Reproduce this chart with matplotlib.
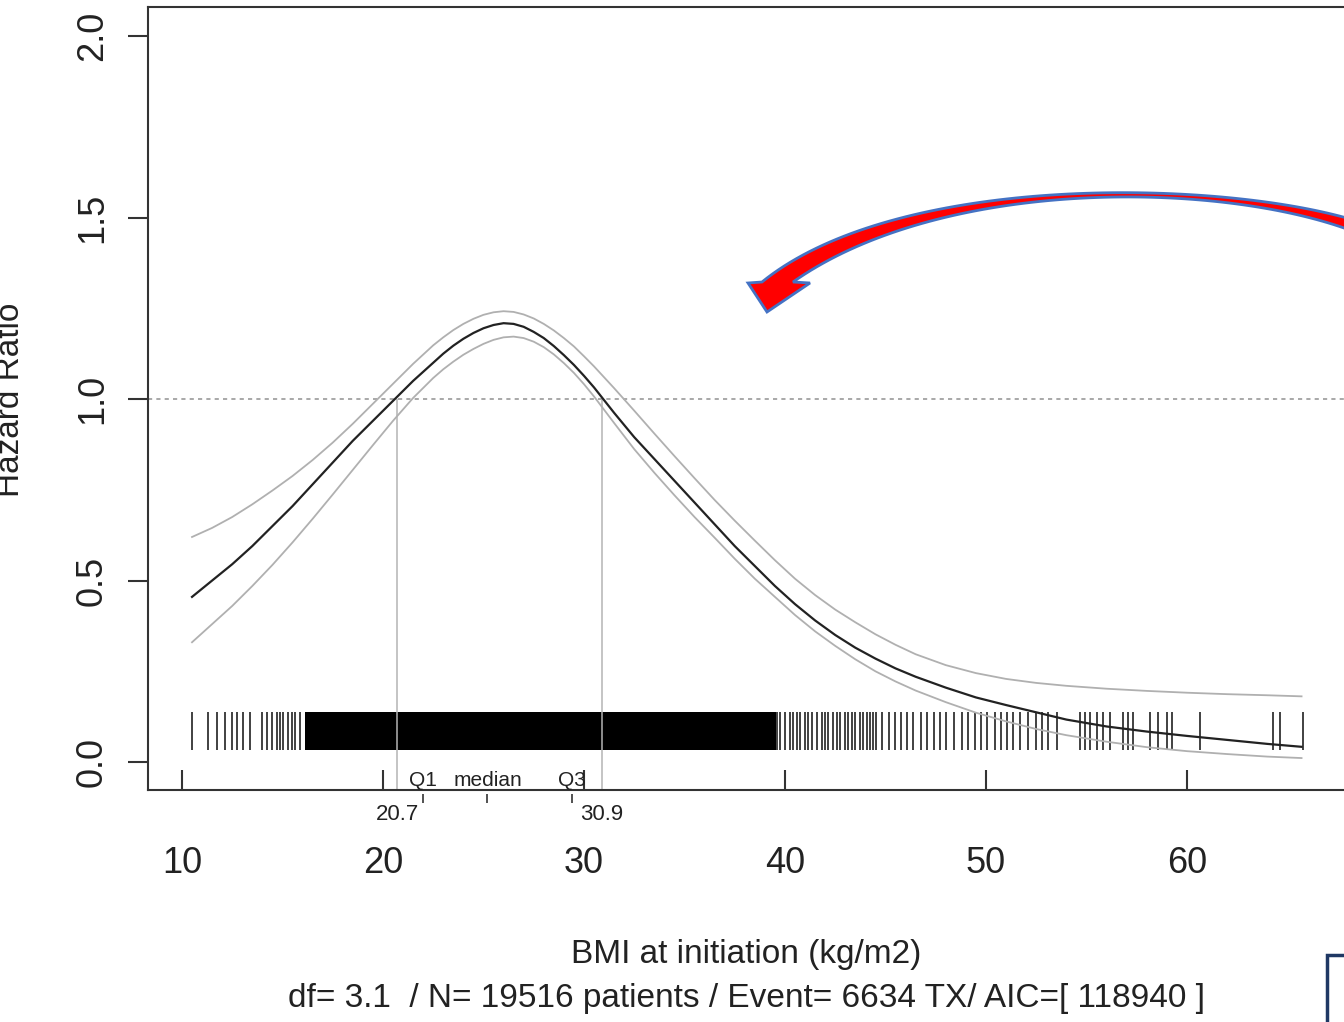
import matplotlib
matplotlib.use('Agg')
import matplotlib.pyplot as plt
import numpy as np
from matplotlib.patches import Polygon, Rectangle

plt.rcParams['font.family'] = ['Liberation Sans', 'DejaVu Sans']

# ── data ─────────────────────────────────────────────────────────
bmi = [10.5, 11.5, 12.5, 13.5, 14.5, 15.5, 16.5, 17.5, 18.5, 19.5, 20.5, 21.5, 22.5,
       23.0, 23.5, 24.0, 24.5, 25.0, 25.5, 26.0, 26.5, 27.0, 27.5, 28.0, 28.5,
       29.0, 29.5, 30.0, 30.5,
       31.5, 32.5, 33.5, 34.5, 35.5, 36.5, 37.5, 38.5, 39.5, 40.5,
       41.5, 42.5, 43.5, 44.5, 45.5, 46.5,
       48.0, 49.5, 51.0, 52.5, 54.0,
       56.0, 58.0, 60.0, 62.0, 64.0, 65.7]
hr = [0.455, 0.50, 0.545, 0.595, 0.65, 0.705, 0.765, 0.825, 0.885, 0.94, 0.995, 1.05, 1.10,
      1.125, 1.147, 1.166, 1.182, 1.195, 1.204, 1.209, 1.207, 1.199, 1.185, 1.168, 1.146,
      1.121, 1.094, 1.064, 1.032,
      0.962, 0.895, 0.835, 0.775, 0.715, 0.655, 0.595, 0.54, 0.485, 0.435,
      0.39, 0.35, 0.315, 0.285, 0.258, 0.235,
      0.205, 0.178, 0.157, 0.137, 0.117,
      0.098, 0.084, 0.072, 0.061, 0.050, 0.042]
hr_upper = [0.62, 0.645, 0.675, 0.71, 0.748, 0.788, 0.832, 0.88, 0.932, 0.987, 1.042, 1.097, 1.148,
            1.17, 1.19, 1.207, 1.221, 1.232, 1.239, 1.242, 1.24, 1.233, 1.222, 1.207, 1.189,
            1.168, 1.145, 1.118, 1.09,
            1.03, 0.968, 0.905, 0.843, 0.782, 0.722, 0.665, 0.61, 0.556, 0.505,
            0.46, 0.42, 0.385, 0.352, 0.323, 0.297,
            0.267, 0.245, 0.229, 0.218, 0.21,
            0.202, 0.196, 0.191, 0.187, 0.184, 0.181]
hr_lower = [0.33, 0.38, 0.43, 0.485, 0.543, 0.605, 0.67, 0.737, 0.805, 0.873, 0.94, 1.003, 1.058,
            1.082, 1.103, 1.122, 1.138, 1.152, 1.163, 1.17, 1.172, 1.168, 1.158, 1.143, 1.123,
            1.099, 1.072, 1.041, 1.007,
            0.934, 0.862, 0.797, 0.735, 0.675, 0.618, 0.56, 0.505, 0.455, 0.405,
            0.36, 0.32, 0.283, 0.25, 0.222, 0.197,
            0.165, 0.136, 0.112, 0.091, 0.074,
            0.056, 0.041, 0.030, 0.022, 0.015, 0.011]

# rug of observed BMI values (solid block where values are too dense to split)
rug_dense = (16.1, 39.55)
rug_values = [10.50, 11.29, 11.74, 12.14, 12.49, 12.74, 13.03, 13.38, 13.98,
              14.23, 14.48, 14.73, 14.88, 15.02, 15.27, 15.47, 15.62, 15.87,
              39.60, 39.75, 40.00, 40.25, 40.40, 40.60, 40.75, 41.00, 41.14,
              41.34, 41.59, 41.84, 41.99, 42.14, 42.39, 42.59, 42.74, 42.99,
              43.13, 43.33, 43.48, 43.73, 43.88, 44.08, 44.23, 44.38, 44.53,
              44.83, 45.17, 45.47, 45.77, 46.07, 46.37, 46.77, 47.06, 47.41,
              47.71, 48.01, 48.41, 48.81, 49.10, 49.45, 49.75, 50.05, 50.45,
              50.75, 51.04, 51.34, 51.69, 52.09, 52.49, 52.79, 53.08, 53.53,
              54.68, 54.93, 55.17, 55.52, 55.82, 56.17, 56.82, 57.06, 57.31,
              58.16, 58.56, 59.00, 59.25, 60.65, 64.28, 64.63, 65.77]

hr1_cross = [20.7, 30.9]
quartile_names = ['Q1', 'median', 'Q3']
quartile_values = [22.0, 25.2, 29.4]
x_ticks = [10, 20, 30, 40, 50, 60]
y_ticks = [0.0, 0.5, 1.0, 1.5, 2.0]
y_ticklabels = ['0.0', '0.5', '1.0', '1.5', '2.0']

xlabel = 'BMI at initiation (kg/m2)'
subtitle = 'df= 3.1  / N= 19516 patients / Event= 6634 TX/ AIC=[ 118940 ]'

# ── figure ───────────────────────────────────────────────────────
W, H = 1344, 1022
fig = plt.figure(figsize=(W / 100, H / 100), dpi=100, facecolor='white')
ax = fig.add_axes([148 / W, 1 - 790 / H, (1352 - 148) / W, (790 - 7) / H])
ymin, ymax = -0.077, 2.08
ax.set_xlim(8.31, 68.21)
ax.set_ylim(ymin, ymax)

def fpx(x, y):
    return (x / W, 1 - y / H)

ax.axhline(1.0, color='#9a9a9a', lw=1.2, ls=(0, (2.5, 2.5)))
ax.vlines(hr1_cross, ymin, 1.0, color='#b4b4b4', lw=1.1)

# rug
ax.fill_between(list(rug_dense), 0.033, 0.138, color='black', lw=0)
ax.vlines(rug_values, 0.033, 0.138, color='#333333', lw=1.3)

ax.plot(bmi, hr_upper, color='#b0b0b0', lw=1.3)
ax.plot(bmi, hr_lower, color='#b0b0b0', lw=1.3)
ax.plot(bmi, hr, color='#222222', lw=1.6)

for s in ax.spines.values():
    s.set_color('#333333')
    s.set_linewidth(1.5)

ax.set_xticks(x_ticks)
ax.set_xticklabels([str(t) for t in x_ticks])
ax.tick_params(axis='x', direction='in', length=14.4, width=1.5,
               color='#333333', pad=40.5, labelsize=26, labelcolor='#222222')
ax.set_yticks(y_ticks)
ax.set_yticklabels(y_ticklabels, rotation=90, va='center')
ax.tick_params(axis='y', direction='out', length=14.4, width=1.5,
               color='#333333', pad=13, labelsize=26, labelcolor='#222222')

# quartile marks
for name, q in zip(quartile_names, quartile_values):
    ax.text(q, -0.052, name, ha='center', va='center', fontsize=15, color='#222222')
ax.vlines(quartile_values, -0.088, -0.113, color='#333333', lw=1.2, clip_on=False)
for v in hr1_cross:
    ax.text(v, -0.145, f'{v:.1f}', ha='center', va='center', fontsize=16,
            color='#222222', clip_on=False)

fig.text(*fpx(746, 954), xlabel, ha='center', va='center', fontsize=24, color='#222222')
fig.text(*fpx(746, 998), subtitle, ha='center', va='center', fontsize=24, color='#222222')
fig.text(*fpx(11, 400), 'Hazard Ratio', rotation=90, ha='center', va='center',
         fontsize=24, color='#222222')

# ── curved red arrow (annotation) ────────────────────────────────
def bez(p0, p1, p2, p3, n=80):
    t = np.linspace(0, 1, n)[:, None]
    p0, p1, p2, p3 = map(np.array, (p0, p1, p2, p3))
    return (1 - t) ** 3 * p0 + 3 * (1 - t) ** 2 * t * p1 + 3 * (1 - t) * t ** 2 * p2 + t ** 3 * p3

outer = bez((1360, 222), (1230, 180), (900, 170), (762, 282))
inner = bez((1360, 234), (1230, 181), (945, 175), (793, 282))
head = np.array([(748, 283), (767, 312), (810, 283)])
pts = np.vstack([outer, head, inner[::-1]])
pts_fig = np.column_stack([pts[:, 0] / W, 1 - pts[:, 1] / H])
fig.patches.append(Polygon(pts_fig, closed=True, facecolor='#ff0000',
                           edgecolor='#4472c4', lw=2.0, joinstyle='miter',
                           transform=fig.transFigure, figure=fig))

# navy box corner at bottom right
x0, y0 = fpx(1327, 1100)
fig.patches.append(Rectangle((x0, y0), 200 / W, (1100 - 955) / H, fill=False,
                             edgecolor='#1f3864', lw=2.5,
                             transform=fig.transFigure, figure=fig))

fig.savefig('out.png', dpi=100, facecolor='white')
